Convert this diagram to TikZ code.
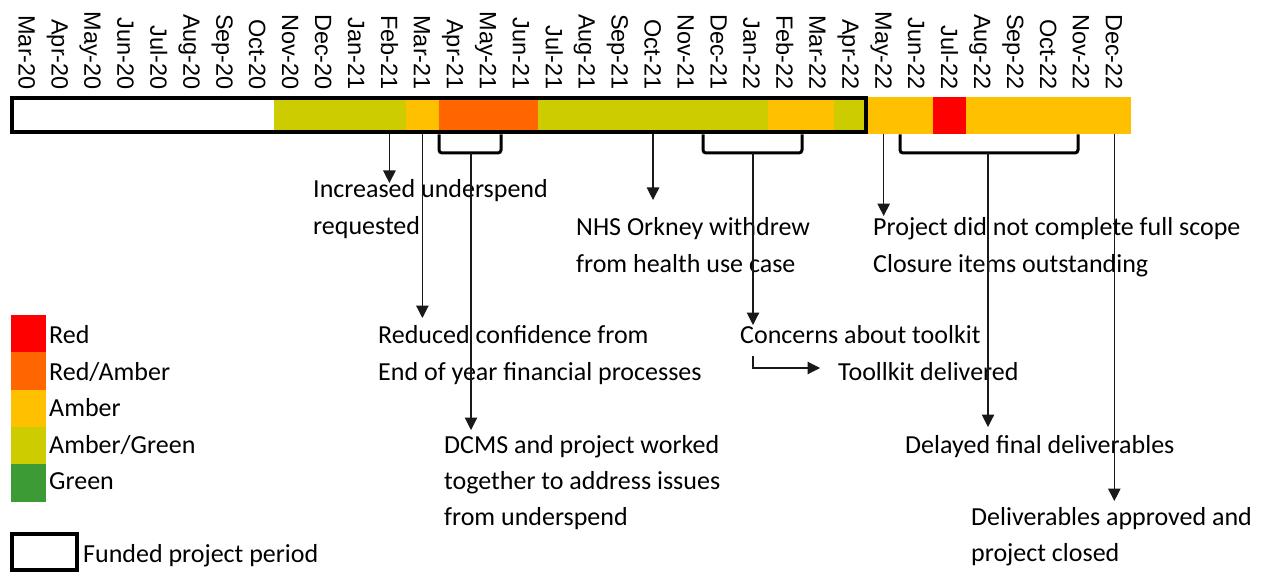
\documentclass[tikz,border=0pt]{standalone}
\usepackage{fontspec}
\setmainfont{Carlito}
\newfontfamily\axisfont{Liberation Sans}
\usetikzlibrary{arrows.meta}

\definecolor{ragRed}{RGB}{255,0,0}
\definecolor{ragRedAmber}{RGB}{255,102,0}
\definecolor{ragAmber}{RGB}{255,192,0}
\definecolor{ragAmberGreen}{RGB}{204,204,0}
\definecolor{ragGreen}{RGB}{61,155,53}

\begin{document}
\begin{tikzpicture}[x=1pt,y=-1pt,
  lbl/.style={anchor=base west, inner sep=0pt, font=\fontsize{26}{36}\selectfont},
  month/.style={anchor=base east, inner sep=0pt, rotate=-90,
                font=\axisfont\fontsize{23.5}{28}\selectfont},
  cell/.style={draw=none, minimum width=33.3pt, minimum height=37.5pt,
               inner sep=0pt, outer sep=0pt, fill=#1},
  swatch/.style={draw=none, minimum width=35pt, minimum height=37.3pt,
                 inner sep=0pt, outer sep=0pt, fill=#1},
  conn/.style={draw=black!90, line width=1.1pt, -{Triangle[length=12.5pt,width=12.5pt]}},
  bracket/.style={line width=3pt, rounded corners=3pt},
]
\useasboundingbox (0,0) rectangle (1268,572);
\fill[white] (0,0) rectangle (1268,572);

% month axis
\foreach \m [count=\k from 0] in {Mar-20,Apr-20,May-20,Jun-20,Jul-20,Aug-20,Sep-20,Oct-20,
    Nov-20,Dec-20,Jan-21,Feb-21,Mar-21,Apr-21,May-21,Jun-21,Jul-21,Aug-21,Sep-21,Oct-21,
    Nov-21,Dec-21,Jan-22,Feb-22,Mar-22,Apr-22,May-22,Jun-22,Jul-22,Aug-22,Sep-22,Oct-22,
    Nov-22,Dec-22}
  \node[month] (mo\k) at ({26.97+32.95*\k-8.4},90) {\m};

% RAG status per month
\foreach \c [count=\k from 0] in {white,white,white,white,white,white,white,white,
    ragAmberGreen,ragAmberGreen,ragAmberGreen,ragAmberGreen,ragAmber,
    ragRedAmber,ragRedAmber,ragRedAmber,
    ragAmberGreen,ragAmberGreen,ragAmberGreen,ragAmberGreen,ragAmberGreen,ragAmberGreen,ragAmberGreen,
    ragAmber,ragAmber,ragAmberGreen,ragAmber,ragAmber,ragRed,
    ragAmber,ragAmber,ragAmber,ragAmber,ragAmber}
  \node[cell=\c] (c\k) at ({26.97+32.95*\k},115.75) {};

% funded project period outline
\node[draw, line width=4pt, minimum width=854pt, minimum height=34pt, inner sep=0pt]
  (funded) at (439,115.5) {};

% brackets under month ranges
\draw[bracket] (439,134.5) -- (439,153) -- (501,153) -- (501,134.5);
\draw[bracket] (703,134.5) -- (703,153) -- (802,153) -- (802,134.5);
\draw[bracket] (900,134.5) -- (900,153) -- (1078,153) -- (1078,134.5);
\coordinate (b1) at (471,153);
\coordinate (b2) at (753,153);
\coordinate (b3) at (988,153);

% event texts
\node[lbl] (inc1) at (313,197) {Increased underspend};
\node[lbl] (inc2) at (313,234) {requested};
\node[lbl] (red1) at (378,343) {Reduced confidence from};
\node[lbl] (red2) at (378,380) {End of year financial processes};
\node[lbl] (dcms1) at (444,453) {DCMS and project worked};
\node[lbl] (dcms2) at (444,489) {together to address issues};
\node[lbl] (dcms3) at (444,525) {from underspend};
\node[lbl] (nhs1) at (576,235) {NHS Orkney withdrew};
\node[lbl] (nhs2) at (576,272) {from health use case};
\node[lbl] (conc) at (740,343) {Concerns about toolkit};
\node[lbl] (tool) at (838,380) {Toollkit delivered};
\node[lbl] (proj1) at (873,235) {Project did not complete full scope};
\node[lbl] (proj2) at (873,272) {Closure items outstanding};
\node[lbl] (dly) at (905,453) {Delayed final deliverables};
\node[lbl] (appr1) at (971,525) {Deliverables approved and};
\node[lbl] (appr2) at (971,561) {project closed};

% arrow tips
\coordinate (t1) at (c11.south |- 0,183);
\coordinate (t2) at (c12.south |- 0,318);
\coordinate (t3) at (b1 |- 0,430);
\coordinate (t4) at (c19.south |- 0,200);
\coordinate (t5) at (b2 |- 0,325);
\coordinate (t6) at (c26.south |- 0,216);
\coordinate (t7) at (b3 |- 0,427);
\coordinate (t8) at (c33.south |- 0,501);
\coordinate (e0) at (753,356);
\coordinate (e1) at (753,368);
\coordinate (e2) at (820,368);

\draw[conn] (c11.south) -- (t1);
\draw[conn] (c12.south) -- (t2);
\draw[conn] (b1) -- (t3);
\draw[conn] (c19.south) -- (t4);
\draw[conn] (b2) -- (t5);
\draw[conn] (c26.south) -- (t6);
\draw[conn] (b3) -- (t7);
\draw[conn] (c33.south) -- (t8);
\draw[conn] (e0) -- (e1) -- (e2);

% legend
\node[swatch=ragRed] (kR) at (28.5,333.65) {};
\node[swatch=ragRedAmber] (kRA) at (28.5,370.95) {};
\node[swatch=ragAmber] (kA) at (28.5,408.25) {};
\node[swatch=ragAmberGreen] (kAG) at (28.5,445.55) {};
\node[swatch=ragGreen] (kG) at (28.5,482.85) {};
\node[lbl] (kRt) at (49,343) {Red};
\node[lbl] (kRAt) at (49,380) {Red/Amber};
\node[lbl] (kAt) at (49,416) {Amber};
\node[lbl] (kAGt) at (49,453) {Amber/Green};
\node[lbl] (kGt) at (49,489) {Green};
\node[draw, line width=4pt, minimum width=65pt, minimum height=36pt, inner sep=0pt]
  (kF) at (44.5,552) {};
\node[lbl] (kFt) at (83,562) {Funded project period};
\end{tikzpicture}
\end{document}
